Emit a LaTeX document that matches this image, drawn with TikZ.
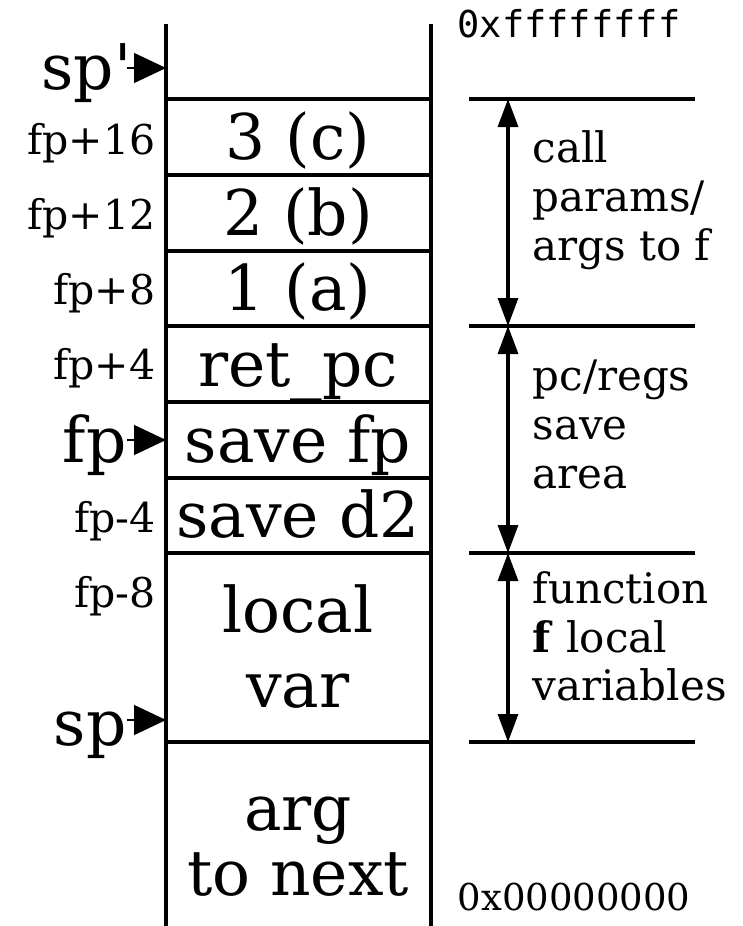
\documentclass[tikz,border=0pt]{standalone}
\usepackage{fontspec}
\setmainfont{DejaVu Serif}
\setmonofont{DejaVu Sans Mono}
\usetikzlibrary{arrows.meta}
\begin{document}
\begin{tikzpicture}[x=1pt,y=-1pt,line width=3.2pt,
  big/.style={font=\fontsize{63}{75}\selectfont,inner sep=0pt,anchor=base},
  bigl/.style={font=\fontsize{63}{75}\selectfont,inner sep=0pt,anchor=base east},
  offs/.style={font=\fontsize{41}{49}\selectfont,inner sep=0pt,anchor=base east},
  note/.style={font=\fontsize{42}{49}\selectfont,inner sep=0pt,anchor=base west},
  addr/.style={inner sep=0pt,anchor=base west},
  ptr/.style={line width=1.5pt,-{Triangle[length=32pt,width=30pt]}},
  span/.style={line width=3.2pt,{Triangle[length=28pt,width=20pt]}-{Triangle[length=28pt,width=20pt]}},
]
\useasboundingbox (0,0) rectangle (742,926);

% stack frame outline
\coordinate (LT) at (166,24);  \coordinate (LB) at (166,926);
\coordinate (RT) at (431,24);  \coordinate (RB) at (431,926);
\draw (LT) -- (LB);
\draw (RT) -- (RB);
\foreach \y/\n in {99/a,175/b,251/c,326/d,402/e,478/f,553/g,742/h}{
  \coordinate (bl\n) at (166,\y);
  \coordinate (br\n) at (431,\y);
  \draw (bl\n) -- (br\n);
}

% box contents
\node[big] (c3) at (298,159) {3 (c)};
\node[big] (c2) at (298,235) {2 (b)};
\node[big] (c1) at (298,310) {1 (a)};
\node[big] (rpc) at (298,386) {ret\_pc};
\node[big] (sfp) at (298,462) {save fp};
\node[big] (sd2) at (298,537) {save d2};
\node[big] (lv1) at (298,632) {local};
\node[big] (lv2) at (298,707) {var};
\node[big] (an1) at (298,830) {arg};
\node[big] (an2) at (298,895) {to next};

% offsets
\node[offs] (o16) at (157,154) {fp+16};
\node[offs] (o12) at (157,229) {fp+12};
\node[offs] (o8)  at (157,304) {fp+8};
\node[offs] (o4)  at (157,379) {fp+4};
\node[offs] (om4) at (157,532) {fp-4};
\node[offs] (om8) at (157,607) {fp-8};

% pointers
\node[bigl] (spp) at (133,89) {sp\textquotesingle};
\node[bigl] (fpl) at (128,462) {fp};
\node[bigl] (spl) at (128,745) {sp};
\coordinate (spt) at (166,68);
\coordinate (fpt) at (166,440);
\coordinate (spbt) at (166,720);
\coordinate (sps) at (127,68);
\coordinate (fps) at (127,440);
\coordinate (spbs) at (127,720);
\draw[ptr] (sps) -- (spt);
\draw[ptr] (fps) -- (fpt);
\draw[ptr] (spbs) -- (spbt);

% addresses
\node[addr,font=\fontsize{37}{44}\selectfont\ttfamily] (hi) at (456,37) {0xffffffff};
\node[addr,font=\fontsize{37}{44}\selectfont] (lo) at (456,910) {0x00000000};

% right-side brackets
\foreach \y/\n in {99/a,326/b,553/c,742/d}{
  \coordinate (rl\n) at (469,\y);
  \coordinate (rr\n) at (695,\y);
  \coordinate (ra\n) at (508,\y);
  \draw (rl\n) -- (rr\n);
}
\draw[span] (raa) -- (rab);
\draw[span] (rab) -- (rac);
\draw[span] (rac) -- (rad);

\node[note] (n1) at (531,162) {call};
\node[note] (n2) at (531,211) {params/};
\node[note] (n3) at (531,260) {args to f};
\node[note] (n4) at (531,390) {pc/regs};
\node[note] (n5) at (531,439) {save};
\node[note] (n6) at (531,488) {area};
\node[note] (n7) at (531,603) {function};
\node[note] (n8) at (531,652) {\textbf{f} local};
\node[note] (n9) at (531,700) {variables};
\end{tikzpicture}
\end{document}
